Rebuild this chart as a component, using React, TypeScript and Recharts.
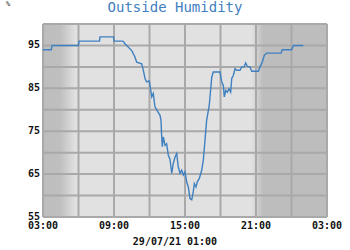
import { LineChart, Line, XAxis, YAxis, CartesianGrid } from 'recharts';

// hours since midnight of the first day (27 = 03:00 next day)
const hours = [
  3.0, 3.7, 3.76, 6.0, 6.04, 7.78, 7.82, 8.96, 9.0, 9.76, 9.93, 10.35, 10.5, 10.77, 10.92,
  11.34, 11.48, 11.62, 11.76, 11.98, 12.19, 12.32, 12.46, 12.61, 12.89, 12.97, 13.03, 13.08,
  13.17, 13.31, 13.45, 13.59, 13.73, 13.88, 14.01, 14.16, 14.3, 14.43, 14.58, 14.72, 14.86,
  15.0, 15.14, 15.28, 15.42, 15.57, 15.7, 15.79, 15.93, 16.04, 16.21, 16.41, 16.55, 16.69,
  16.83, 17.05, 17.26, 17.39, 17.96, 18.1, 18.24, 18.32, 18.44, 18.58, 18.72, 18.86, 18.95,
  19.08, 19.23, 19.37, 19.65, 19.79, 19.99, 20.13, 20.27, 20.49, 20.64, 21.2, 21.34, 21.53,
  21.7, 21.9, 23.11, 23.22, 24.02, 24.15, 25.0,
];

const humidity = [
  94, 94, 95, 95, 96, 96, 97, 97, 96, 96, 95.4, 94.2, 93.8, 92.3, 91.1,
  90.7, 89.2, 87.3, 86.5, 86.7, 83, 83.8, 80.7, 80, 78.7, 77.6, 73.7, 71.4,
  73.7, 71.7, 72.1, 69.4, 68.5, 65.2, 67.5, 69, 69.8, 66.7, 65.2, 65.9, 64.8,
  65.5, 63.2, 62, 59.3, 59, 60.9, 62.8, 62, 63.2, 64, 65.9, 68.3, 72.9,
  77.6, 81, 87.6, 88.8, 88.8, 86.5, 85.7, 83, 84.5, 84.1, 84.9, 84.1, 87.3,
  88, 89.6, 89.2, 89.2, 90, 90, 90.9, 90.1, 90, 89, 89, 90, 91.1,
  92.7, 93.2, 93.2, 94, 94, 95, 95,
];

const xTicks = [3, 6, 9, 12, 15, 18, 21, 24, 27];
const xLabelled = [3, 9, 15, 21, 27];
const yTicks = [55, 60, 65, 70, 75, 80, 85, 90, 95, 100];
const yLabelled = [55, 65, 75, 85, 95];

const data = hours.map((h, i) => ({ h, v: humidity[i] }));

const mono = '"DejaVu Sans Mono", monospace';
const blue = '#3f80c0';

const fmtHour = (h: number) => {
  if (!xLabelled.includes(h)) return '';
  const hh = h % 24;
  return `${String(hh).padStart(2, '0')}:00`;
};

export default function App() {
  return (
    <div style={{ position: 'absolute', left: 0, top: 0, width: 350, height: 250, background: '#fff' }}>
      <div style={{ position: 'absolute', left: 6, top: 0, fontFamily: mono, fontSize: 7, lineHeight: '8px', color: '#333' }}>%</div>
      <div
        style={{
          position: 'absolute', left: 0, top: 0, width: 350, textAlign: 'center',
          fontFamily: mono, fontSize: 14, lineHeight: '15px', color: blue,
        }}
      >
        Outside Humidity
      </div>
      <LineChart width={350} height={250} data={data} margin={{ top: 24, right: 23, left: 0, bottom: 0 }}>
        <defs>
          <linearGradient id="night" x1="0" y1="0" x2="1" y2="0">
            <stop offset="0" stopColor="#bdbdbd" />
            <stop offset="0.06" stopColor="#bfbfbf" />
            <stop offset="0.115" stopColor="#e1e1e1" />
            <stop offset="0.735" stopColor="#e1e1e1" />
            <stop offset="0.775" stopColor="#bdbdbd" />
            <stop offset="1" stopColor="#bdbdbd" />
          </linearGradient>
        </defs>
        <CartesianGrid fill="url(#night)" fillOpacity={1} stroke="#a9a9a9" strokeWidth={2} />
        <XAxis
          dataKey="h"
          type="number"
          domain={[3, 27]}
          ticks={xTicks}
          tickFormatter={fmtHour}
          axisLine={false}
          tickLine={false}
          tickSize={0}
          tickMargin={5}
          height={33}
          interval={0}
          tick={{ fill: '#111', fontFamily: mono, fontSize: 10, fontWeight: 'bold' }}
        />
        <YAxis
          type="number"
          domain={[55, 100]}
          ticks={yTicks}
          tickFormatter={(v: number) => (yLabelled.includes(v) ? String(v) : '')}
          axisLine={false}
          tickLine={false}
          tickSize={0}
          tickMargin={3}
          width={43}
          interval={0}
          tick={{ fill: '#111', fontFamily: mono, fontSize: 10, fontWeight: 'bold', dy: -1 }}
        />
        <Line
          dataKey="v"
          type="linear"
          stroke={blue}
          strokeWidth={1.4}
          dot={false}
          isAnimationActive={false}
        />
      </LineChart>
      <div
        style={{
          position: 'absolute', left: 0, top: 236, width: 350, textAlign: 'center',
          fontFamily: mono, fontSize: 10, lineHeight: '12px', fontWeight: 'bold', color: '#111',
        }}
      >
        29/07/21 01:00
      </div>
    </div>
  );
}
